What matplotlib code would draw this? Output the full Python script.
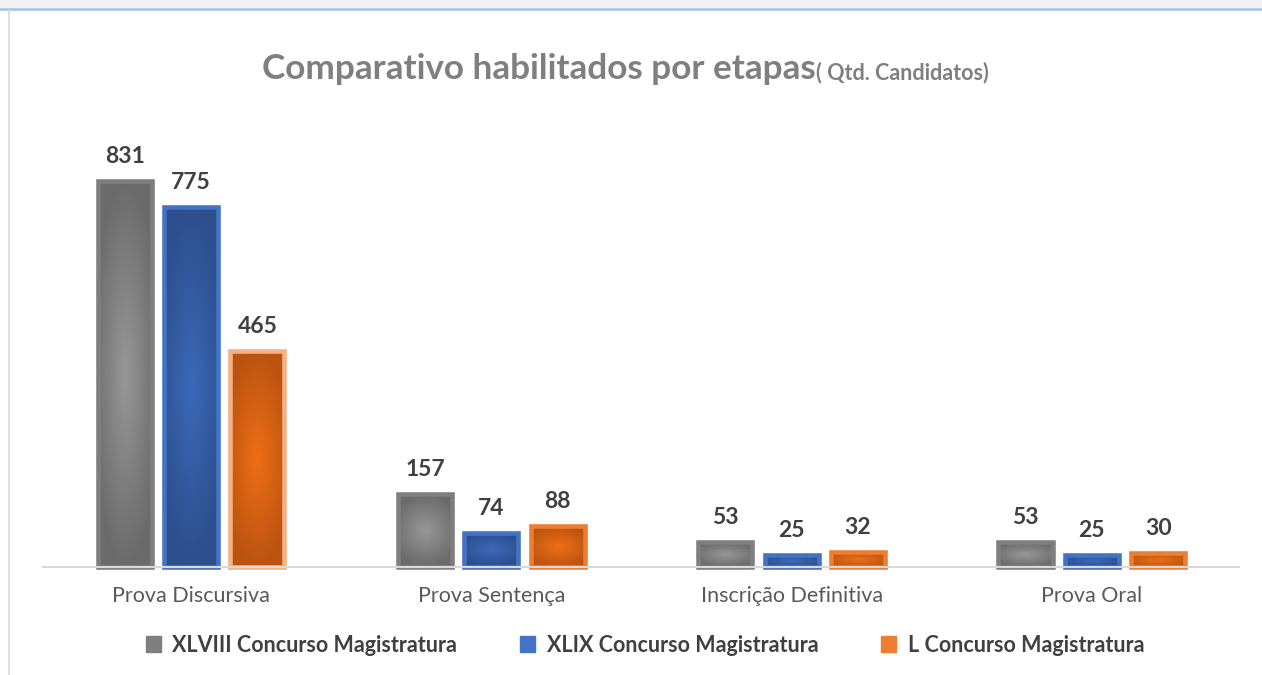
import numpy as np
import matplotlib.pyplot as plt
from matplotlib.colors import LinearSegmentedColormap
from matplotlib.patches import Patch, Rectangle
from matplotlib.lines import Line2D

plt.rcParams['font.family'] = ['Lato', 'DejaVu Sans']

# data
categories = ["Prova Discursiva", "Prova Sentença", "Inscrição Definitiva", "Prova Oral"]
series_names = ["XLVIII Concurso Magistratura", "XLIX Concurso Magistratura", "L Concurso Magistratura"]
xlviii = [831, 157, 53, 53]
xlix = [775, 74, 25, 25]
l_conc = [465, 88, 32, 30]

# style: (edge colour, dark gradient end, light gradient centre)
styles = [("#7f7f7f", "#6b6b6b", "#979797"),
          ("#4472c4", "#2c4f8c", "#3b69ba"),
          ("#ed7d31", "#bb5410", "#ee6e16")]

W, H = 1262, 675
fig = plt.figure(figsize=(W / 100, H / 100), dpi=100)
fig.patch.set_facecolor("white")

# frame decoration of the screenshot
fig.add_artist(Rectangle((0, 1 - 8 / H), 1, 8 / H, transform=fig.transFigure,
                         facecolor="#f2f2f2", edgecolor="none"))
fig.add_artist(Line2D([0, 1], [1 - 9 / H, 1 - 9 / H], transform=fig.transFigure,
                      color="#9dc3e6", lw=1.8))
fig.add_artist(Line2D([8.5 / W, 8.5 / W], [0, 1 - 10 / H], transform=fig.transFigure,
                      color="#d9d9d9", lw=1.2))

ax = fig.add_axes([43 / W, (H - 567) / H, (1239 - 43) / W, 440 / H])

x = np.arange(len(categories))
width = 0.18
step = 0.221
all_series = [xlviii, xlix, l_conc]

yy, xx = np.mgrid[-1:1:200j, -1:1:60j]
dist = np.clip(np.sqrt(xx ** 2 * 0.6 + yy ** 2), 0, 1)

for i, (vals, (edge, dark, light)) in enumerate(zip(all_series, styles)):
    pos = x + (i - 1) * step
    edges = [edge] * len(vals)
    if i == 2:
        edges[0] = "#f4b183"
    bars = ax.bar(pos, vals, width, facecolor="none", edgecolor=edges,
                  linewidth=3.3, zorder=3, clip_on=False)
    cmap = LinearSegmentedColormap.from_list("g%d" % i, [light, dark])
    for b, v in zip(bars, vals):
        ax.imshow(dist, extent=[b.get_x(), b.get_x() + b.get_width(), 0, v],
                  aspect="auto", cmap=cmap, vmin=0, vmax=1, zorder=2,
                  interpolation="bilinear")
        ax.annotate(str(v), (b.get_x() + b.get_width() / 2, v), xytext=(0, 10),
                    textcoords="offset points", ha="center", va="bottom",
                    fontsize=16.5, fontweight="bold", color="#404040")

ax.set_xlim(-0.493, 3.49)
ax.set_ylim(0, 947)
for s in ax.spines.values():
    s.set_visible(False)
ax.axhline(0, color="#d9d9d9", lw=1.5, zorder=4, clip_on=False)
ax.set_yticks([])
ax.set_xticks(x)
ax.set_xticklabels(categories, fontsize=15.5, color="#595959")
ax.tick_params(axis="x", length=0, pad=14)

# title in two parts sharing a baseline
t = fig.text(262 / W, 1 - 79 / H, "Comparativo habilitados por etapas",
             ha="left", va="baseline", fontsize=25.3, fontweight="bold", color="#7f7f7f")
fig.canvas.draw()
bb = t.get_window_extent()
fig.text(bb.x1 / W, 1 - 79 / H, "( Qtd. Candidatos)", ha="left", va="baseline",
         fontsize=15.5, fontweight="bold", color="#7f7f7f")

handles = [Patch(facecolor=s[0], edgecolor=s[0]) for s in styles]
fig.legend(handles, series_names, loc="center", bbox_to_anchor=(0.511, 1 - 645 / H),
           ncol=3, frameon=False, columnspacing=2.9,
           handlelength=0.7, handleheight=0.7, handletextpad=0.55,
           prop={"weight": "bold", "size": 15.5})
for txt in fig.legends[0].get_texts():
    txt.set_color("#404040")

fig.savefig("out.png", dpi=100)
